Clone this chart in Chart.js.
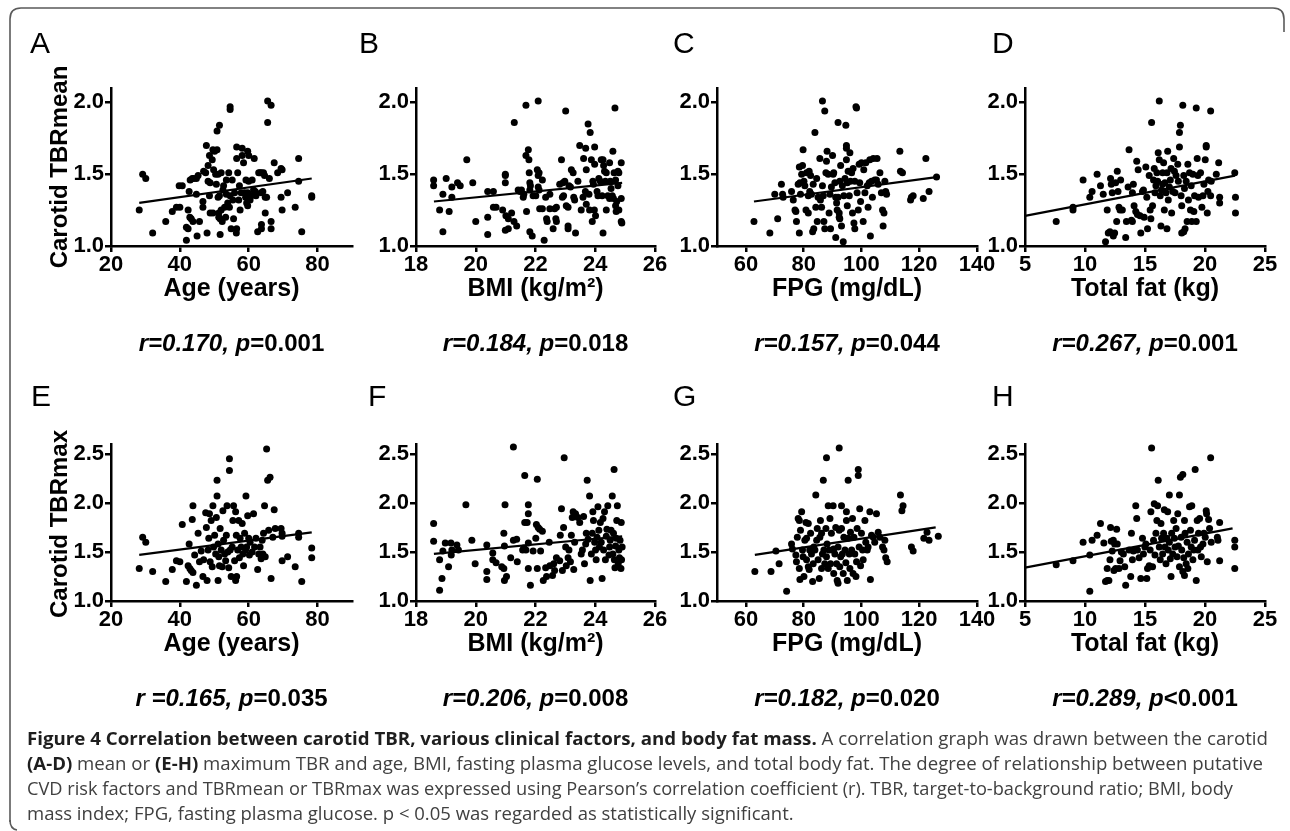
<!DOCTYPE html>
<html><head><meta charset="utf-8">
<script src="https://cdn.jsdelivr.net/npm/chart.js@4.4.1/dist/chart.umd.min.js"></script>
<style>
html,body{margin:0;padding:0;background:#fff;}
body{width:1290px;height:831px;position:relative;overflow:hidden;}
canvas{position:absolute;}
#ov{position:absolute;left:0;top:0;width:1290px;height:831px;pointer-events:none;z-index:5;}
</style></head><body>
<script>
// ---------- DATA ----------
// Row 1: carotid TBRmean
const ageVsTbrMean = [[28.2,1.25],[29.2,1.50],[30.1,1.47],[32.1,1.09],[35.9,1.17],[37.8,1.24],[39.0,1.27],[40.0,1.27],[39.8,1.42],[40.7,1.42],[41.9,1.04],[41.9,1.13],[42.4,1.12],[42.9,1.20],[43.3,1.19],[43.8,1.17],[42.4,1.25],[43.0,1.46],[43.6,1.47],[44.0,1.47],[44.8,1.47],[45.3,1.49],[42.7,1.38],[44.8,1.36],[45.0,1.07],[45.7,1.17],[46.7,1.31],[46.7,1.27],[46.9,1.52],[47.5,1.51],[47.7,1.70],[47.9,1.09],[48.2,1.56],[48.6,1.63],[48.2,1.45],[48.8,1.44],[48.6,1.35],[48.8,1.23],[49.6,1.23],[49.4,1.60],[49.6,1.67],[50.1,1.66],[49.8,1.53],[50.4,1.50],[50.6,1.43],[50.8,1.67],[50.8,1.80],[51.1,1.50],[51.1,1.34],[51.3,1.23],[51.3,1.20],[51.5,1.84],[51.5,1.35],[51.7,1.08],[51.7,1.19],[52.0,1.25],[52.3,1.17],[52.0,1.51],[52.5,1.39],[52.7,1.42],[53.0,1.27],[53.3,1.20],[53.5,1.46],[53.5,1.36],[53.9,1.30],[54.2,1.51],[54.4,1.27],[54.6,1.95],[54.6,1.97],[54.6,1.35],[54.9,1.12],[55.2,1.46],[55.4,1.32],[55.6,1.19],[55.9,1.37],[56.4,1.09],[56.5,1.12],[56.5,1.69],[56.5,1.61],[56.8,1.51],[57.1,1.32],[57.3,1.42],[57.5,1.25],[57.8,1.37],[58.1,1.63],[58.1,1.68],[58.5,1.58],[58.8,1.37],[59.1,1.34],[59.2,1.46],[59.4,1.30],[59.7,1.37],[59.7,1.28],[60.0,1.45],[60.0,1.63],[60.4,1.32],[59.7,1.66],[60.7,1.35],[61.0,1.46],[61.4,1.39],[61.6,1.61],[61.9,1.38],[62.1,1.35],[62.6,1.10],[62.9,1.51],[63.3,1.51],[63.6,1.37],[63.7,1.51],[64.1,1.38],[64.3,1.51],[64.6,1.49],[64.8,1.34],[64.8,1.23],[63.7,1.15],[63.7,1.12],[65.2,1.34],[65.5,2.01],[66.5,1.98],[65.5,1.86],[66.0,1.47],[66.5,1.17],[66.5,1.12],[67.4,1.58],[68.4,1.51],[69.4,1.54],[69.7,1.53],[69.4,1.34],[69.7,1.25],[71.3,1.37],[73.5,1.27],[74.5,1.61],[74.5,1.45],[75.4,1.10],[78.3,1.35],[78.3,1.34]];
const bmiVsTbrMean = [[18.59,1.46],[18.59,1.42],[18.79,1.25],[18.9,1.36],[18.9,1.10],[19.01,1.47],[19.11,1.24],[19.2,1.34],[19.2,1.41],[19.39,1.44],[19.48,1.42],[19.7,1.60],[19.9,1.44],[20.0,1.17],[20.4,1.38],[20.4,1.20],[20.4,1.08],[20.59,1.38],[20.59,1.27],[20.68,1.27],[20.9,1.25],[20.99,1.50],[20.99,1.49],[20.99,1.44],[21.01,1.21],[21.09,1.19],[20.99,1.11],[21.09,1.12],[21.2,1.23],[21.28,1.17],[21.29,1.86],[21.37,1.14],[21.42,1.39],[21.48,1.38],[21.53,1.39],[21.59,1.34],[21.61,1.36],[21.68,1.98],[21.68,1.63],[21.7,1.24],[21.76,1.67],[21.78,1.60],[21.79,1.51],[21.81,1.44],[21.83,1.42],[21.81,1.39],[21.81,1.10],[21.89,1.07],[21.92,1.35],[22.01,1.35],[22.09,2.01],[22.06,1.53],[22.12,1.51],[22.09,1.49],[22.09,1.41],[22.12,1.39],[22.14,1.26],[22.23,1.26],[22.23,1.46],[22.29,1.04],[22.34,1.34],[22.37,1.19],[22.39,1.17],[22.48,1.36],[22.48,1.26],[22.59,1.12],[22.64,1.26],[22.7,1.27],[22.68,1.19],[22.7,1.17],[22.81,1.43],[22.87,1.60],[22.92,1.44],[22.98,1.45],[22.9,1.34],[22.94,1.35],[23.01,1.94],[23.03,1.28],[23.09,1.27],[23.09,1.14],[23.09,1.12],[23.12,1.42],[23.17,1.41],[23.2,1.53],[23.26,1.51],[23.28,1.34],[23.31,1.32],[23.34,1.09],[23.42,1.45],[23.48,1.70],[23.53,1.25],[23.59,1.34],[23.61,1.61],[23.67,1.38],[23.68,1.68],[23.7,1.53],[23.7,1.29],[23.76,1.85],[23.79,1.36],[23.81,1.25],[23.83,1.79],[23.87,1.60],[23.9,1.17],[23.92,1.45],[23.94,1.43],[23.97,1.25],[23.98,1.69],[23.98,1.57],[24.01,1.21],[24.06,1.38],[24.09,1.35],[24.12,1.47],[24.17,1.45],[24.2,1.60],[24.26,1.60],[24.23,1.35],[24.26,1.09],[24.28,1.56],[24.31,1.52],[24.37,1.51],[24.34,1.45],[24.37,1.25],[24.42,1.35],[24.48,1.33],[24.48,1.58],[24.5,1.45],[24.53,1.40],[24.57,1.35],[24.61,1.33],[24.59,1.66],[24.63,1.51],[24.66,1.96],[24.68,1.46],[24.68,1.28],[24.7,1.24],[24.72,1.31],[24.76,1.52],[24.79,1.51],[24.76,1.42],[24.79,1.25],[24.87,1.58],[24.87,1.33],[24.87,1.17],[24.89,1.16]];
const fpgVsTbrMean = [[62.8,1.17],[68.3,1.09],[70.0,1.36],[71.0,1.19],[72.3,1.43],[72.7,1.36],[72.9,1.34],[75.8,1.38],[76.4,1.32],[77.0,1.25],[77.3,1.24],[77.5,1.17],[78.1,1.43],[78.5,1.55],[78.5,1.09],[78.7,1.44],[78.9,1.36],[79.3,1.50],[79.6,1.56],[79.8,1.67],[80.1,1.45],[80.4,1.42],[80.8,1.25],[81.0,1.51],[81.6,1.35],[81.6,1.23],[81.9,1.52],[82.1,1.38],[82.4,1.49],[82.7,1.36],[83.1,1.10],[83.3,1.43],[83.5,1.12],[83.9,1.79],[84.2,1.27],[84.5,1.47],[84.7,1.17],[85.0,1.34],[85.6,1.61],[85.8,1.32],[86.2,1.27],[86.5,2.01],[86.5,1.42],[86.8,1.35],[87.0,1.17],[87.3,1.94],[87.3,1.12],[87.7,1.51],[87.9,1.59],[88.1,1.66],[88.5,1.50],[88.8,1.23],[89.1,1.36],[89.3,1.12],[89.6,1.41],[90.0,1.63],[90.2,1.50],[90.4,1.51],[90.8,1.44],[91.1,1.06],[91.1,1.34],[91.4,1.30],[91.6,1.25],[91.9,1.86],[91.9,1.34],[92.3,1.23],[92.3,1.20],[92.5,1.45],[92.5,1.19],[92.8,1.56],[93.1,1.14],[93.4,1.42],[93.7,1.03],[93.9,1.35],[94.3,1.47],[94.6,1.84],[94.8,1.70],[94.8,1.68],[94.8,1.60],[95.1,1.44],[95.1,1.28],[95.4,1.52],[95.8,1.35],[96.0,1.65],[96.2,1.45],[96.6,1.51],[96.9,1.23],[97.1,1.54],[97.4,1.16],[97.7,1.45],[97.7,1.12],[98.1,1.97],[98.3,1.96],[98.5,1.37],[98.9,1.25],[99.2,1.57],[99.4,1.44],[99.7,1.31],[100.0,1.58],[100.6,1.17],[100.8,1.53],[101.2,1.37],[101.5,1.58],[102.0,1.42],[102.3,1.27],[102.7,1.44],[102.9,1.60],[103.1,1.07],[103.5,1.45],[103.8,1.34],[104.1,1.61],[104.6,1.46],[105.2,1.46],[105.4,1.61],[105.8,1.43],[106.4,1.51],[106.9,1.37],[107.3,1.25],[107.5,1.14],[107.8,1.23],[108.1,1.45],[108.4,1.38],[108.7,1.36],[113.3,1.66],[113.5,1.52],[114.2,1.51],[117.0,1.32],[117.3,1.34],[117.9,1.35],[121.4,1.33],[122.3,1.61],[123.4,1.38],[126.0,1.48]];
const fatVsTbrMean = [[7.60,1.17],[9.00,1.25],[9.00,1.27],[9.84,1.46],[10.40,1.34],[10.59,1.38],[11.01,1.50],[11.29,1.42],[11.52,1.36],[11.71,1.03],[11.85,1.25],[11.94,1.09],[12.08,1.10],[12.13,1.47],[12.19,1.43],[12.27,1.37],[12.36,1.07],[12.47,1.09],[12.55,1.44],[12.64,1.17],[12.69,1.52],[12.75,1.38],[12.83,1.27],[12.92,1.25],[12.97,1.46],[13.11,1.25],[13.39,1.06],[13.45,1.17],[13.59,1.41],[13.67,1.67],[13.87,1.18],[13.95,1.17],[13.95,1.37],[14.03,1.43],[14.09,1.28],[14.23,1.24],[14.31,1.59],[14.37,1.22],[14.43,1.53],[14.59,1.21],[14.65,1.09],[14.79,1.38],[14.87,1.39],[14.93,1.20],[15.07,1.55],[15.15,1.34],[15.21,1.12],[15.35,1.49],[15.43,1.25],[15.49,1.19],[15.55,1.86],[15.63,1.28],[15.71,1.46],[15.77,1.54],[15.83,1.37],[15.91,1.42],[15.99,1.51],[16.05,1.45],[16.10,1.65],[16.19,2.01],[16.19,1.60],[16.27,1.35],[16.33,1.14],[16.38,1.39],[16.47,1.51],[16.47,1.43],[16.55,1.58],[16.61,1.25],[16.66,1.44],[16.75,1.37],[16.83,1.12],[16.83,1.51],[16.89,1.66],[16.94,1.32],[17.03,1.41],[17.11,1.46],[17.17,1.54],[17.22,1.23],[17.31,1.38],[17.39,1.61],[17.45,1.52],[17.50,1.37],[17.59,1.49],[17.73,1.57],[17.78,1.45],[17.87,1.69],[17.87,1.79],[17.95,1.84],[18.01,1.35],[18.06,1.28],[18.06,1.09],[18.23,1.10],[18.15,1.98],[18.23,1.49],[18.29,1.40],[18.34,1.12],[18.43,1.45],[18.51,1.17],[18.57,1.57],[18.62,1.32],[18.71,1.51],[18.79,1.25],[18.85,1.42],[18.90,1.17],[18.99,1.50],[19.07,1.24],[19.13,1.35],[19.27,1.96],[19.27,1.17],[19.35,1.61],[19.41,1.49],[19.46,1.34],[19.63,1.51],[19.74,1.27],[19.83,1.35],[19.91,1.43],[20.02,1.60],[20.10,1.70],[20.10,1.69],[20.19,1.23],[20.24,1.38],[20.30,1.46],[20.47,1.94],[20.47,1.35],[20.52,1.45],[20.94,1.50],[21.14,1.58],[21.22,1.30],[21.22,1.34],[22.48,1.51],[22.54,1.34],[22.54,1.23]];
// Row 2: carotid TBRmax
const ageVsTbrMax = [[28.2,1.33],[29.2,1.65],[30.1,1.60],[32.1,1.30],[35.9,1.20],[37.8,1.32],[39.0,1.41],[40.0,1.40],[40.7,1.78],[41.9,1.20],[42.4,1.36],[42.9,1.33],[43.3,1.31],[43.8,1.29],[42.7,1.58],[43.6,1.83],[43.8,1.97],[44.3,1.47],[44.8,1.16],[45.3,1.69],[45.7,1.40],[46.2,1.51],[46.7,1.25],[46.9,1.42],[47.5,1.90],[47.7,1.75],[47.9,1.21],[48.2,1.52],[48.4,1.64],[48.6,1.89],[48.8,1.40],[49.1,1.82],[49.4,1.35],[49.6,1.97],[49.8,1.55],[50.1,1.67],[50.4,1.48],[50.6,1.85],[50.8,2.23],[50.8,2.07],[51.1,1.58],[51.1,1.21],[51.3,1.45],[51.5,1.36],[51.7,1.74],[52.0,1.52],[52.3,1.35],[52.5,1.92],[52.7,1.62],[53.0,1.48],[53.3,1.41],[53.5,1.67],[53.7,1.97],[53.9,1.50],[54.2,1.34],[54.4,2.45],[54.4,2.33],[54.6,1.52],[54.9,1.25],[55.2,1.55],[55.4,1.82],[55.6,1.97],[55.9,1.41],[56.2,1.21],[56.2,1.91],[56.4,1.67],[56.5,1.25],[56.8,1.52],[57.1,1.82],[57.3,1.44],[57.5,1.64],[57.8,1.55],[58.1,1.79],[58.3,1.48],[58.5,1.36],[58.8,1.69],[59.1,1.52],[59.2,2.07],[59.4,1.55],[59.7,1.87],[60.0,1.64],[60.2,1.47],[60.4,1.60],[61.0,1.50],[61.4,1.89],[61.7,1.55],[62.1,1.64],[62.6,1.32],[62.9,1.48],[63.3,1.55],[63.6,1.43],[63.9,1.62],[64.1,1.48],[64.3,1.69],[64.6,1.97],[64.8,1.45],[65.2,2.55],[65.5,2.23],[66.2,2.26],[65.8,1.72],[66.5,1.23],[67.0,1.65],[67.4,1.93],[67.7,1.74],[69.4,1.74],[69.7,1.69],[69.7,1.66],[69.7,1.41],[71.3,1.45],[73.5,1.35],[74.5,1.69],[74.5,1.65],[75.4,1.20],[78.3,1.54],[78.3,1.44]];
const bmiVsTbrMax = [[18.59,1.79],[18.59,1.61],[18.79,1.42],[18.9,1.51],[18.79,1.11],[18.87,1.23],[18.98,1.59],[19.17,1.59],[19.09,1.35],[19.18,1.47],[19.2,1.52],[19.37,1.57],[19.42,1.52],[19.67,1.98],[19.87,1.62],[19.98,1.38],[20.37,1.57],[20.37,1.30],[20.37,1.22],[20.57,1.49],[20.57,1.42],[20.68,1.39],[20.87,1.35],[20.94,1.33],[20.98,1.98],[20.94,1.69],[20.96,1.56],[20.96,1.21],[21.03,1.25],[21.17,1.44],[21.26,2.57],[21.26,1.62],[21.37,1.63],[21.39,1.40],[21.57,1.52],[21.61,1.54],[21.68,1.52],[21.64,1.80],[21.72,1.80],[21.64,2.28],[21.76,1.98],[21.76,1.89],[21.76,1.59],[21.76,1.33],[21.83,1.16],[21.92,1.51],[22.01,1.64],[22.03,1.78],[22.09,1.75],[22.14,1.73],[22.23,1.71],[22.06,2.24],[22.06,1.33],[22.17,1.51],[22.26,1.21],[22.34,1.34],[22.37,1.25],[22.46,1.60],[22.48,1.36],[22.57,1.26],[22.61,1.38],[22.64,1.31],[22.7,1.44],[22.81,1.41],[22.83,1.67],[22.87,1.94],[22.9,1.31],[22.94,1.75],[22.96,2.46],[23.01,1.55],[23.03,1.36],[23.09,1.44],[23.12,1.52],[23.17,1.40],[23.2,1.67],[23.23,1.85],[23.26,1.91],[23.28,1.32],[23.31,1.60],[23.34,1.89],[23.42,1.85],[23.48,1.80],[23.53,1.48],[23.57,1.52],[23.61,1.86],[23.64,1.38],[23.68,1.58],[23.7,1.69],[23.73,2.23],[23.76,1.63],[23.81,2.07],[23.83,1.21],[23.87,1.48],[23.9,1.69],[23.92,1.91],[23.94,1.82],[23.98,1.60],[24.01,1.52],[24.03,1.42],[24.06,1.65],[24.09,1.96],[24.12,1.72],[24.14,1.55],[24.17,1.80],[24.2,1.60],[24.23,1.23],[24.26,1.84],[24.28,1.52],[24.31,1.91],[24.34,1.42],[24.37,1.66],[24.39,1.73],[24.42,1.97],[24.46,1.47],[24.48,1.55],[24.5,1.62],[24.53,1.72],[24.57,2.07],[24.59,1.48],[24.61,1.69],[24.63,2.34],[24.64,1.42],[24.66,1.34],[24.68,1.56],[24.7,1.64],[24.72,1.82],[24.74,1.97],[24.77,1.38],[24.79,1.52],[24.81,1.44],[24.83,1.62],[24.86,1.33],[24.87,1.80],[24.88,1.42],[24.9,1.55]];
const fpgVsTbrMax = [[63.1,1.30],[68.7,1.30],[70.4,1.51],[71.5,1.38],[74.1,1.10],[75.8,1.58],[76.1,1.53],[77.3,1.47],[77.5,1.40],[77.8,1.65],[78.1,1.84],[78.5,1.82],[78.5,1.33],[78.7,1.22],[78.9,1.72],[79.3,1.91],[79.6,1.52],[79.8,1.45],[80.1,1.25],[80.4,1.62],[81.0,1.64],[80.8,1.80],[81.6,1.79],[81.0,1.42],[81.6,1.35],[81.9,1.32],[82.1,1.52],[82.4,1.69],[82.7,1.48],[83.1,1.20],[83.3,1.38],[83.5,1.55],[83.9,1.52],[84.2,2.08],[84.5,1.62],[84.7,1.74],[85.0,1.42],[85.4,1.23],[85.6,1.65],[86.2,1.69],[85.8,1.82],[86.2,1.33],[86.5,1.48],[86.8,2.23],[87.0,1.52],[87.3,1.38],[87.7,1.74],[87.9,2.46],[87.9,1.45],[88.1,1.58],[88.5,1.97],[88.5,1.33],[88.8,1.52],[89.1,1.84],[89.3,1.38],[89.6,1.69],[90.0,1.52],[90.4,1.53],[90.2,1.97],[90.4,1.28],[90.8,1.48],[91.1,1.75],[91.4,1.38],[91.6,1.21],[91.9,1.18],[91.9,1.55],[92.3,2.56],[92.3,1.72],[93.1,1.74],[92.5,1.35],[92.8,1.45],[93.1,1.97],[93.4,1.48],[93.7,1.28],[93.9,1.65],[94.3,1.52],[94.6,1.39],[94.8,1.91],[94.8,1.82],[95.1,1.21],[95.4,2.23],[95.4,1.64],[95.8,1.48],[96.0,1.33],[96.2,1.70],[96.6,1.52],[96.9,1.84],[97.1,1.28],[97.4,1.65],[97.7,1.48],[98.1,1.25],[98.3,1.40],[98.5,1.74],[98.9,2.34],[98.9,2.28],[99.2,1.55],[99.4,1.94],[99.7,1.36],[100.0,1.69],[100.4,1.52],[100.6,1.42],[101.2,1.82],[101.5,1.60],[102.0,1.52],[102.3,1.55],[102.9,1.91],[103.1,1.22],[103.5,1.67],[104.1,1.65],[104.6,1.60],[105.2,1.89],[105.8,1.70],[106.4,1.65],[107.3,1.55],[107.8,1.52],[108.1,1.62],[108.4,1.44],[108.9,1.40],[113.5,2.08],[114.4,1.97],[114.0,1.92],[117.3,1.55],[117.9,1.51],[121.6,1.64],[123.4,1.62],[122.7,1.70],[126.6,1.66]];
const fatVsTbrMax = [[7.60,1.37],[9.00,1.41],[9.84,1.60],[10.40,1.10],[10.40,1.47],[10.59,1.62],[11.01,1.67],[11.29,1.79],[11.57,1.59],[11.71,1.20],[11.85,1.21],[11.99,1.21],[11.85,1.33],[12.08,1.42],[12.13,1.75],[12.19,1.61],[12.36,1.62],[12.27,1.51],[12.41,1.31],[12.47,1.58],[12.55,1.33],[12.64,1.73],[12.69,1.58],[12.83,1.33],[12.92,1.41],[13.03,1.50],[13.20,1.48],[13.31,1.35],[13.39,1.16],[13.67,1.52],[13.81,1.25],[13.87,1.69],[13.95,1.42],[14.03,1.51],[14.23,1.97],[14.31,1.84],[14.37,1.52],[14.51,1.44],[14.65,1.23],[14.79,1.64],[14.87,1.48],[14.99,1.55],[15.07,1.58],[15.15,1.23],[15.21,1.33],[15.35,1.36],[15.43,1.52],[15.49,1.91],[15.55,2.56],[15.63,1.35],[15.71,1.62],[15.77,1.99],[15.83,1.47],[15.91,1.69],[15.99,1.82],[16.05,1.97],[16.10,2.23],[16.19,1.55],[16.27,1.42],[16.33,1.79],[16.38,1.64],[16.47,1.48],[16.55,1.69],[16.61,1.93],[16.66,1.55],[16.75,1.38],[16.83,1.64],[16.89,1.91],[16.94,1.52],[17.03,2.08],[17.03,1.60],[17.11,1.43],[17.17,1.25],[17.22,1.69],[17.31,1.48],[17.39,1.82],[17.45,1.64],[17.50,1.55],[17.59,1.74],[17.67,1.45],[17.73,1.89],[17.78,1.56],[17.87,2.08],[17.87,1.35],[17.95,2.26],[18.15,2.29],[18.01,1.65],[18.06,1.52],[18.15,1.30],[18.29,1.26],[18.23,1.44],[18.29,1.82],[18.34,1.69],[18.43,1.38],[18.51,1.60],[18.57,1.33],[18.62,1.48],[18.71,1.96],[18.79,1.72],[18.85,1.55],[18.90,1.97],[18.99,1.42],[19.07,1.52],[19.13,1.62],[19.18,2.34],[19.27,1.21],[19.35,1.82],[19.41,1.52],[19.46,1.69],[19.55,1.84],[19.63,1.55],[19.69,1.45],[19.83,1.58],[19.91,1.69],[20.02,1.65],[20.10,1.92],[20.13,1.89],[20.19,1.40],[20.30,1.83],[20.38,1.74],[20.47,2.46],[20.52,1.60],[21.03,1.65],[21.08,1.62],[21.22,1.80],[21.22,1.41],[22.48,1.62],[22.48,1.55],[22.48,1.33]];
// Linear-regression lines as drawn (end points)
const fitAgeMean = [[28.2,1.30],[78.3,1.47]];
const fitBmiMean = [[18.6,1.31],[24.9,1.44]];
const fitFpgMean = [[62.8,1.31],[126.0,1.48]];
const fitFatMean = [[5.0,1.21],[22.5,1.49]];
const fitAgeMax  = [[28.2,1.47],[78.3,1.70]];
const fitBmiMax  = [[18.6,1.48],[24.9,1.66]];
const fitFpgMax  = [[63.1,1.47],[125.7,1.75]];
const fitFatMax  = [[5.0,1.34],[22.3,1.74]];
// Axis ranges [min, max, step]
const ageAxis = [20, 90, 20];
const bmiAxis = [18, 26, 2];
const fpgAxis = [50, 140, 20];
const fatAxis = [5, 25, 5];
const meanAxis = [1.0, 2.1, 0.5];
const maxAxis = [1.0, 2.6, 0.5];
// Texts
const panelLetters = ['A','B','C','D','E','F','G','H'];
const xTitles = ['Age (years)','BMI (kg/m\u00B2)','FPG (mg/dL)','Total fat (kg)'];
const yTitles = ['Carotid TBRmean','Carotid TBRmax'];
const statsR = ['r=0.170, p','r=0.184, p','r=0.157, p','r=0.267, p','r =0.165, p','r=0.206, p','r=0.182, p','r=0.289, p'];
const statsP = ['=0.001','=0.018','=0.044','=0.001','=0.035','=0.008','=0.020','<0.001'];

// ---------- LAYOUT ----------
const colL = [111, 416, 717, 1025];
const colR = [352, 655, 977, 1265];
const rowT = [88, 444];
const rowB = [246, 601];
const YW = 80, PT = 14, PR = 30, XH = 40;
const FONT = '"Liberation Sans", Arial, Helvetica, sans-serif';

function makePanel(points, fit, xa, ya, col, row){
  const l = colL[col], r = colR[col], t = rowT[row], b = rowB[row];
  const cv = document.createElement('canvas');
  const W = (r - l) + YW + PR, H = (b - t) + PT + XH;
  cv.width = W; cv.height = H;
  cv.style.left = (l - YW) + 'px'; cv.style.top = (t - PT) + 'px';
  cv.style.width = W + 'px'; cv.style.height = H + 'px';
  document.body.appendChild(cv);
  const tickFont = {family: FONT, size: 22, weight: 'bold'};
  new Chart(cv.getContext('2d'), {
    type: 'scatter',
    data: { datasets: [
      { data: points.map(p => ({x: p[0], y: p[1]})), pointRadius: 3.5, pointBackgroundColor: '#000', pointBorderWidth: 0, backgroundColor: '#000', borderWidth: 0, clip: false },
      { data: fit.map(p => ({x: p[0], y: p[1]})), showLine: true, borderColor: '#000', borderWidth: 2.2, pointRadius: 0, clip: false }
    ]},
    options: {
      responsive: false, animation: false, devicePixelRatio: 1,
      events: [],
      layout: { padding: {top: PT, right: PR, left: 0, bottom: 0}, autoPadding: false },
      plugins: { legend: {display: false}, tooltip: {enabled: false} },
      scales: {
        x: { type: 'linear', min: xa[0], max: xa[1],
             afterFit(s){ s.height = XH; s.paddingLeft = 0; s.paddingRight = 0; },
             ticks: { stepSize: xa[2], includeBounds: false, autoSkip: false, maxRotation: 0, font: tickFont, color: '#000', padding: 0 },
             grid: { drawOnChartArea: false, drawTicks: true, tickLength: 6, lineWidth: 2.5, color: '#000' },
             border: { display: true, width: 2.5, color: '#000' } },
        y: { type: 'linear', min: ya[0], max: ya[1],
             afterFit(s){ s.width = YW; s.paddingTop = 0; s.paddingBottom = 0; },
             ticks: { stepSize: ya[2], includeBounds: false, autoSkip: false, font: tickFont, color: '#000', padding: 1,
                      callback: v => Number(v).toFixed(1) },
             grid: { drawOnChartArea: false, drawTicks: true, tickLength: 6, lineWidth: 2.5, color: '#000' },
             border: { display: true, width: 2.5, color: '#000' } }
      }
    }
  });
}

makePanel(ageVsTbrMean, fitAgeMean, ageAxis, meanAxis, 0, 0);
makePanel(bmiVsTbrMean, fitBmiMean, bmiAxis, meanAxis, 1, 0);
makePanel(fpgVsTbrMean, fitFpgMean, fpgAxis, meanAxis, 2, 0);
makePanel(fatVsTbrMean, fitFatMean, fatAxis, meanAxis, 3, 0);
makePanel(ageVsTbrMax, fitAgeMax, ageAxis, maxAxis, 0, 1);
makePanel(bmiVsTbrMax, fitBmiMax, bmiAxis, maxAxis, 1, 1);
makePanel(fpgVsTbrMax, fitFpgMax, fpgAxis, maxAxis, 2, 1);
makePanel(fatVsTbrMax, fitFatMax, fatAxis, maxAxis, 3, 1);

// ---------- TEXT OVERLAY ----------
const NS = 'http://www.w3.org/2000/svg';
const svg = document.createElementNS(NS, 'svg');
svg.setAttribute('id', 'ov'); svg.setAttribute('width', 1290); svg.setAttribute('height', 831);
document.body.appendChild(svg);
function el(tag, attrs, parent){ const e = document.createElementNS(NS, tag); for (const k in attrs) e.setAttribute(k, attrs[k]); (parent || svg).appendChild(e); return e; }

// frame
el('path', {d: 'M 10 822 L 10 19 Q 10 8 21 8 L 1273 8 Q 1284 8 1284 19 L 1284 32', fill: 'none', stroke: '#5a5a5a', 'stroke-width': 1.6});
el('path', {d: 'M 10 820 Q 10 829 17 830', fill: 'none', stroke: '#5a5a5a', 'stroke-width': 1.6});

const letterX = [30, 359, 673, 992, 31, 368, 673, 992];
const letterY = [53, 53, 53, 53, 406, 406, 406, 406];
panelLetters.forEach((s, i) => {
  const t = el('text', {x: letterX[i], y: letterY[i], 'font-family': FONT, 'font-size': 30, fill: '#000'});
  t.textContent = s;
});
const yTitleCY = [167, 524];
for (let row = 0; row < 2; row++) {
  for (let c = 0; c < 4; c++) {
    const cx = (colL[c] + colR[c]) / 2;
    const t = el('text', {x: cx, y: rowB[row] + 50, 'text-anchor': 'middle', 'font-family': FONT, 'font-size': 25, 'font-weight': 'bold', fill: '#000'});
    t.textContent = xTitles[c];
    const k = row * 4 + c;
    const s = el('text', {x: cx, y: rowB[row] + 105, 'text-anchor': 'middle', 'font-family': FONT, 'font-size': 24, 'font-weight': 'bold', fill: '#000'});
    const a = el('tspan', {'font-style': 'italic'}, s); a.textContent = statsR[k];
    const bb = el('tspan', {}, s); bb.textContent = statsP[k];
  }
  const yt = el('text', {transform: `translate(67 ${yTitleCY[row]}) rotate(-90)`, 'text-anchor': 'middle', 'font-family': FONT, 'font-size': 24, 'font-weight': 'bold', fill: '#000'});
  yt.textContent = yTitles[row];
}

// caption
const CAP = '"Open Sans", "DejaVu Sans", sans-serif';
const capLines = [
  [['b','Figure 4 Correlation between carotid TBR, various clinical factors, and body fat mass.'],['r',' A correlation graph was drawn between the carotid']],
  [['b','(A-D)'],['r',' mean or '],['b','(E-H)'],['r',' maximum TBR and age, BMI, fasting plasma glucose levels, and total body fat. The degree of relationship between putative']],
  [['r','CVD risk factors and TBRmean or TBRmax was expressed using Pearson\u2019s correlation coefficient (r). TBR, target-to-background ratio; BMI, body']],
  [['r','mass index; FPG, fasting plasma glucose. p < 0.05 was regarded as statistically significant.']]
];
const capBase = [745, 770, 795, 820];
const capRight = [1268, 1263, 1233, null];
const capEls = capLines.map((parts, i) => {
  const t = el('text', {x: 27, y: capBase[i], 'font-family': CAP, 'font-size': 18, fill: '#404040'});
  parts.forEach(p => {
    const ts = el('tspan', p[0] === 'b' ? {'font-weight': 'bold', fill: '#1e1e1e'} : {}, t);
    ts.textContent = p[1];
  });
  return t;
});
let scales = [];
capEls.forEach((t, i) => {
  if (capRight[i]) {
    const nat = t.getComputedTextLength();
    const target = capRight[i] - 27;
    scales.push(target / nat);
    t.setAttribute('textLength', target);
    t.setAttribute('lengthAdjust', 'spacingAndGlyphs');
  }
});
const avg = scales.reduce((a, b) => a + b, 0) / scales.length;
const nat4 = capEls[3].getComputedTextLength();
capEls[3].setAttribute('textLength', nat4 * avg);
capEls[3].setAttribute('lengthAdjust', 'spacingAndGlyphs');
</script>
</body></html>
